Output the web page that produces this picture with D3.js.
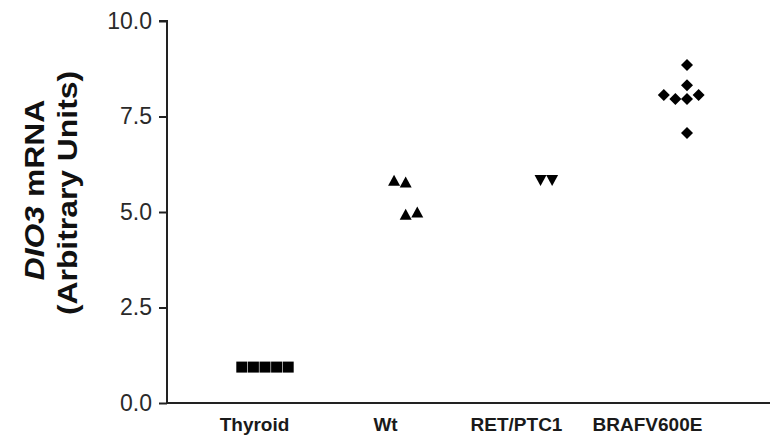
<!DOCTYPE html>
<html><head><meta charset="utf-8">
<script src="https://cdn.jsdelivr.net/npm/d3@7"></script>
<style>body{margin:0;background:#fff}svg{display:block}</style>
</head><body>
<script>
const categories = ["Thyroid", "Wt", "RET/PTC1", "BRAFV600E"];
const thyroidValues = [0.94, 0.94, 0.94, 0.94, 0.94];
const thyroidSlots = [-2, -1, 0, 1, 2];
const wtValues = [5.82, 5.77, 4.93, 4.99];
const wtSlots = [-1, 0, 0, 1];
const retValues = [5.84, 5.84];
const retSlots = [-0.5, 0.5];
const brafValues = [8.85, 8.32, 8.06, 7.96, 7.96, 8.06, 7.07];
const brafSlots = [0, 0, -2, -1, 0, 1, 0];
const yTicks = [0, 2.5, 5, 7.5, 10];
const yLabel1 = ["DIO3", " mRNA"];
const yLabel2 = "(Arbitrary Units)";

const groups = [
  {cat: categories[0], values: thyroidValues, slots: thyroidSlots, shape: "square"},
  {cat: categories[1], values: wtValues, slots: wtSlots, shape: "triangleUp"},
  {cat: categories[2], values: retValues, slots: retSlots, shape: "triangleDown"},
  {cat: categories[3], values: brafValues, slots: brafSlots, shape: "diamond"}
];

const W = 770, H = 445;
const svg = d3.select("body").append("svg").attr("width", W).attr("height", H);

const y = d3.scaleLinear().domain([0, 10]).range([403, 21]);
const xLabel = d3.scalePoint().domain(categories).range([254, 647]);
const xData = d3.scalePoint().domain(categories).range([265, 687]);
const slotW = 11.6;

// y axis
const yAxis = d3.axisLeft(y).tickValues(yTicks).tickFormat(d3.format(".1f")).tickSize(8).tickPadding(7);
const gy = svg.append("g").attr("transform", "translate(167,0)").call(yAxis);
gy.select(".domain").attr("stroke", "#222").attr("stroke-width", 2).attr("d", `M-8,${y(10)}H0V${y(0)}`);
gy.selectAll(".tick line").attr("stroke", "#222").attr("stroke-width", 2);
gy.selectAll(".tick text").attr("font-family", "Liberation Sans, Arial, sans-serif").attr("font-size", 23).attr("fill", "#2a2a2a");

// x axis line
svg.append("line").attr("x1", 166).attr("x2", W).attr("y1", y(0)).attr("y2", y(0)).attr("stroke", "#222").attr("stroke-width", 2);
const xAxis = d3.axisBottom(xLabel).tickSize(0).tickPadding(15);
const gx = svg.append("g").attr("transform", `translate(0,${y(0)})`).call(xAxis);
gx.select(".domain").remove();
gx.selectAll(".tick text").attr("font-family", "Liberation Sans, Arial, sans-serif").attr("font-size", 19).attr("font-weight", "bold").attr("fill", "#1a1a1a");

// y label
const lab = svg.append("g").attr("font-family", "Liberation Sans, Arial, sans-serif").attr("font-weight", "bold").attr("font-size", 27).attr("fill", "#111").attr("text-anchor", "middle");
const t1 = lab.append("text").attr("transform", "translate(44,190) rotate(-90) scale(1.18,1)");
t1.append("tspan").attr("font-style", "italic").text(yLabel1[0]);
t1.append("tspan").text(yLabel1[1]);
lab.append("text").attr("transform", "translate(77,193) rotate(-90) scale(1.18,1)").text(yLabel2);

// points
const shapePath = {
  square: "M-5.5,-5.5H5.5V5.5H-5.5Z",
  triangleUp: "M0,-6L6,5H-6Z",
  triangleDown: "M0,6L6,-5H-6Z",
  diamond: "M0,-6L6,0L0,6L-6,0Z"
};
groups.forEach(g => {
  svg.append("g").selectAll("path").data(g.values).join("path")
    .attr("d", shapePath[g.shape])
    .attr("fill", "#000")
    .attr("transform", (v, i) => `translate(${xData(g.cat) + g.slots[i] * slotW},${y(v)})`);
});
</script>
</body></html>
